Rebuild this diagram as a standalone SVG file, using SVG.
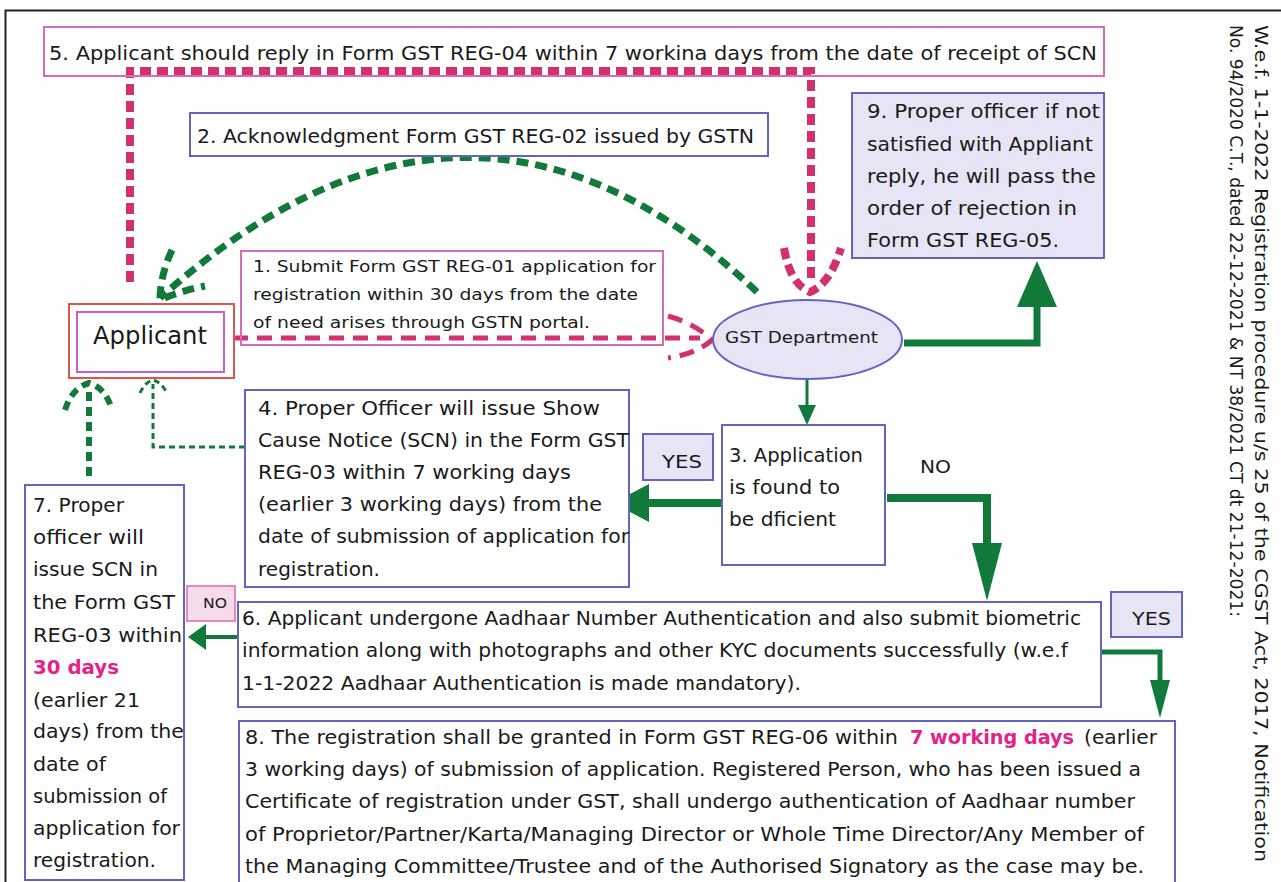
<svg xmlns="http://www.w3.org/2000/svg" width="1281" height="882" viewBox="0 0 1281 882">
<style>
text{font-family:"DejaVu Sans","Liberation Sans",sans-serif;fill:#1a1a1a;font-size:19.5px}
.t17{font-size:16.5px}
.t18{font-size:17.5px}
.t15{font-size:14px}
.big{font-size:25px}
.pk{fill:#e0248a;font-weight:bold}
.rot{font-family:"DejaVu Sans Condensed","DejaVu Sans",sans-serif;font-size:18px}
.pinkbox{fill:none;stroke:#d56cbb;stroke-width:2}
.bluebox{fill:#fff;stroke:#6464c0;stroke-width:2}
.lav{fill:#e7e5f5;stroke:#6464c0;stroke-width:2}
.pdash{fill:none;stroke:#d3306f;stroke-width:8;stroke-dasharray:11 6}
.pdash2{fill:none;stroke:#d3306f;stroke-width:5;stroke-dasharray:15 9}
.gdash{fill:none;stroke:#117a3a;stroke-width:7;stroke-dasharray:12 7}
.gdash6{fill:none;stroke:#117a3a;stroke-width:6;stroke-dasharray:9 6}
.gdot{fill:none;stroke:#117a3a;stroke-width:3;stroke-dasharray:6 4}
.gl{fill:none;stroke:#117a3a}
.gf{fill:#117a3a;stroke:none}
</style>
<rect width="1281" height="882" fill="#fff"/>
<path d="M5.5,882 V10.5 H1281" fill="none" stroke="#222" stroke-width="2"/>

<g id="connectors">
  <!-- 5: pink reply line -->
  <path class="pdash" d="M130,282 V71 H811 V284"/>
  <path class="pdash" d="M784,248 Q790,284 810,292 Q830,284 841,248" stroke-dasharray="10 6"/>
  <!-- 2: acknowledgment arc -->
  <path class="gdash" d="M757,292 Q470,20 160,298"/>
  <path class="gdash" d="M172,250 Q160,276 160,300 Q180,291 205,286" stroke-dasharray="10 6"/>
  <!-- 1: submit line -->
  <path class="pdash2" d="M233,338 H700"/>
  <path class="pdash2" d="M668,316 Q696,324 712,340 Q696,354 668,358" stroke-dasharray="10 7"/>
  <!-- GST -> box 9 -->
  <path class="gl" d="M904,343 H1037 V300" stroke-width="7"/>
  <path class="gf" d="M1037,261 L1057,307 L1017,307 Z"/>
  <!-- GST -> box 3 -->
  <path class="gl" d="M807,378 V408" stroke-width="3"/>
  <path class="gf" d="M807,425 L798,405 L816,405 Z"/>
  <!-- box 3 -> box 4 (YES) -->
  <path class="gl" d="M722,503 H645" stroke-width="8"/>
  <path class="gf" d="M613,503 L649,484 L649,522 Z"/>
  <!-- box 3 -> box 6 (NO) -->
  <path class="gl" d="M887,498 H987 V548" stroke-width="8"/>
  <path class="gf" d="M987,601 L972,543 L1002,543 Z"/>
  <!-- box 4 -> applicant -->
  <path class="gdot" d="M245,447 H153 V384"/>
  <path class="gdot" d="M140,393 Q145,382 153,380 Q161,382 167,393"/>
  <!-- box 7 -> applicant -->
  <path class="gdash6" d="M89,476 V390"/>
  <path class="gdash6" d="M65,410 Q72,388 89,383 Q106,388 112,410" stroke-dasharray="8 5"/>
  <!-- box 6 -> box 7 (NO) -->
  <path class="gl" d="M241,637 H200" stroke-width="4"/>
  <path class="gf" d="M188,637 L206,624 L206,650 Z"/>
  <!-- box 6 -> box 8 (YES) -->
  <path class="gl" d="M1101,652 H1160 V684" stroke-width="5"/>
  <path class="gf" d="M1160,718 L1150,680 L1170,680 Z"/>
</g>

<g id="box5">
  <rect class="pinkbox" x="44" y="27" width="1060" height="49"/>
  <text x="49" y="60" textLength="1048" lengthAdjust="spacingAndGlyphs">5. Applicant should reply in Form GST REG-04 within 7 workina days from the date of receipt of SCN</text>
</g>

<g id="box2">
  <rect class="bluebox" x="190" y="113" width="578" height="43"/>
  <text x="197" y="143" textLength="557" lengthAdjust="spacingAndGlyphs">2. Acknowledgment Form GST REG-02 issued by GSTN</text>
</g>

<g id="box9">
  <rect class="lav" x="852" y="93" width="252" height="165"/>
  <text x="867" y="118" textLength="233" lengthAdjust="spacingAndGlyphs">9. Proper officer if not</text>
  <text x="867" y="151" textLength="226" lengthAdjust="spacingAndGlyphs">satisfied with Appliant</text>
  <text x="867" y="183" textLength="229" lengthAdjust="spacingAndGlyphs">reply, he will pass the</text>
  <text x="867" y="215" textLength="210" lengthAdjust="spacingAndGlyphs">order of rejection in</text>
  <text x="867" y="247" textLength="192" lengthAdjust="spacingAndGlyphs">Form GST REG-05.</text>
</g>

<g id="box1">
  <rect class="pinkbox" x="241" y="251" width="422" height="94"/>
  <text class="t17" x="253" y="272" textLength="403" lengthAdjust="spacingAndGlyphs">1. Submit Form GST REG-01 application for</text>
  <text class="t17" x="253" y="300" textLength="385" lengthAdjust="spacingAndGlyphs">registration within 30 days from the date</text>
  <text class="t17" x="253" y="328" textLength="337" lengthAdjust="spacingAndGlyphs">of need arises through GSTN portal.</text>
</g>

<g id="applicant">
  <rect x="69" y="304" width="165" height="74" fill="none" stroke="#d9564f" stroke-width="2"/>
  <rect x="77" y="312" width="147" height="60" fill="#fff" stroke="#cc5fc4" stroke-width="2"/>
  <text class="big" x="93" y="344" textLength="114" lengthAdjust="spacingAndGlyphs">Applicant</text>
</g>

<g id="gst">
  <ellipse cx="807.5" cy="339.5" rx="94.5" ry="39.5" fill="#e7e5f5" stroke="#6464c0" stroke-width="2"/>
  <text class="t17" x="725" y="343" textLength="153" lengthAdjust="spacingAndGlyphs">GST Department</text>
</g>

<g id="yes1">
  <rect class="lav" x="643" y="434" width="70" height="46"/>
  <text class="t18" x="662" y="468" textLength="40" lengthAdjust="spacingAndGlyphs">YES</text>
</g>

<g id="box3">
  <rect class="bluebox" x="722" y="425" width="163" height="140"/>
  <text x="729" y="462" textLength="134" lengthAdjust="spacingAndGlyphs">3. Application</text>
  <text x="729" y="494" textLength="111" lengthAdjust="spacingAndGlyphs">is found to</text>
  <text x="729" y="526" textLength="107" lengthAdjust="spacingAndGlyphs">be dficient</text>
</g>

<g id="no1">
  <text class="t18" x="920" y="473" textLength="31" lengthAdjust="spacingAndGlyphs">NO</text>
</g>

<g id="box4">
  <rect class="bluebox" x="245" y="390" width="384" height="197"/>
  <text x="258" y="415" textLength="342" lengthAdjust="spacingAndGlyphs">4. Proper Officer will issue Show</text>
  <text x="258" y="447" textLength="371" lengthAdjust="spacingAndGlyphs">Cause Notice (SCN) in the Form GST</text>
  <text x="258" y="479" textLength="313" lengthAdjust="spacingAndGlyphs">REG-03 within 7 working days</text>
  <text x="258" y="511" textLength="344" lengthAdjust="spacingAndGlyphs">(earlier 3 working days) from the</text>
  <text x="258" y="543" textLength="371" lengthAdjust="spacingAndGlyphs">date of submission of application for</text>
  <text x="258" y="576" textLength="122" lengthAdjust="spacingAndGlyphs">registration.</text>
</g>

<g id="box7">
  <rect class="bluebox" x="25" y="485" width="159" height="395"/>
  <text x="33" y="512" textLength="91" lengthAdjust="spacingAndGlyphs">7. Proper</text>
  <text x="33" y="544" textLength="111" lengthAdjust="spacingAndGlyphs">officer will</text>
  <text x="33" y="576" textLength="125" lengthAdjust="spacingAndGlyphs">issue SCN in</text>
  <text x="33" y="609" textLength="142" lengthAdjust="spacingAndGlyphs">the Form GST</text>
  <text x="33" y="642" textLength="149" lengthAdjust="spacingAndGlyphs">REG-03 within</text>
  <text class="pk" x="33" y="674" textLength="86" lengthAdjust="spacingAndGlyphs">30 days</text>
  <text x="33" y="707" textLength="107" lengthAdjust="spacingAndGlyphs">(earlier 21</text>
  <text x="33" y="738" textLength="151" lengthAdjust="spacingAndGlyphs">days) from the</text>
  <text x="33" y="771" textLength="73" lengthAdjust="spacingAndGlyphs">date of</text>
  <text x="33" y="803" textLength="134" lengthAdjust="spacingAndGlyphs">submission of</text>
  <text x="33" y="835" textLength="147" lengthAdjust="spacingAndGlyphs">application for</text>
  <text x="33" y="867" textLength="123" lengthAdjust="spacingAndGlyphs">registration.</text>
</g>

<g id="no2">
  <rect x="187" y="586" width="48" height="35" fill="#f6dcea" stroke="#e08ac0" stroke-width="2"/>
  <text class="t15" x="203" y="608" textLength="24" lengthAdjust="spacingAndGlyphs">NO</text>
</g>

<g id="box6">
  <rect class="bluebox" x="238" y="602" width="863" height="105"/>
  <text x="242" y="625" textLength="839" lengthAdjust="spacingAndGlyphs">6. Applicant undergone Aadhaar Number Authentication and also submit biometric</text>
  <text x="242" y="657" textLength="826" lengthAdjust="spacingAndGlyphs">information along with photographs and other KYC documents successfully (w.e.f</text>
  <text x="242" y="690" textLength="559" lengthAdjust="spacingAndGlyphs">1-1-2022 Aadhaar Authentication is made mandatory).</text>
</g>

<g id="yes2">
  <rect class="lav" x="1111" y="592" width="71" height="45"/>
  <text class="t18" x="1132" y="625" textLength="39" lengthAdjust="spacingAndGlyphs">YES</text>
</g>

<g id="box8">
  <rect class="bluebox" x="239" y="721" width="936" height="170"/>
  <text x="245" y="744" textLength="653" lengthAdjust="spacingAndGlyphs">8. The registration shall be granted in Form GST REG-06 within</text>
  <text class="pk" x="910" y="744" textLength="164" lengthAdjust="spacingAndGlyphs">7 working days</text>
  <text x="1084" y="744" textLength="73" lengthAdjust="spacingAndGlyphs">(earlier</text>
  <text x="245" y="776" textLength="896" lengthAdjust="spacingAndGlyphs">3 working days) of submission of application. Registered Person, who has been issued a</text>
  <text x="245" y="808" textLength="890" lengthAdjust="spacingAndGlyphs">Certificate of registration under GST, shall undergo authentication of Aadhaar number</text>
  <text x="245" y="841" textLength="899" lengthAdjust="spacingAndGlyphs">of Proprietor/Partner/Karta/Managing Director or Whole Time Director/Any Member of</text>
  <text x="245" y="873" textLength="899" lengthAdjust="spacingAndGlyphs">the Managing Committee/Trustee and of the Authorised Signatory as the case may be.</text>
</g>

<g id="note">
  <text class="rot" transform="translate(1255,25) rotate(90)" textLength="837" lengthAdjust="spacingAndGlyphs">W.e.f. 1-1-2022 Registration procedure u/s 25 of the CGST Act, 2017, Notification</text>
  <text class="rot" transform="translate(1230,25) rotate(90)" textLength="592" lengthAdjust="spacingAndGlyphs">No. 94/2020 C.T., dated 22-12-2021 &amp; NT 38/2021 CT dt 21-12-2021:</text>
</g>
</svg>
